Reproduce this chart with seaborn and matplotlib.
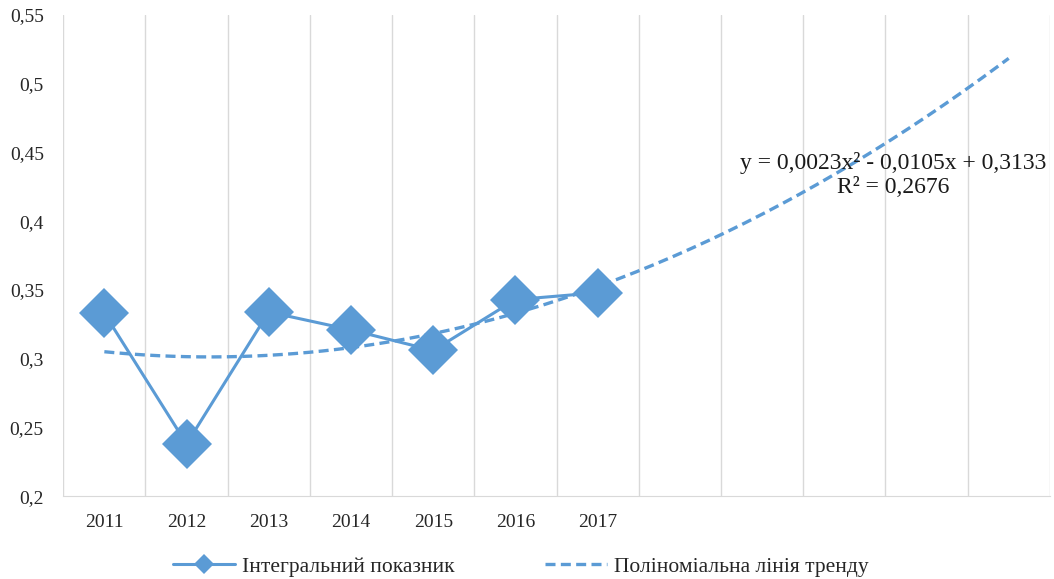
import numpy as np
import pandas as pd
import matplotlib
matplotlib.use('Agg')
import matplotlib.pyplot as plt
import seaborn as sns
from matplotlib.ticker import FixedLocator, FuncFormatter

# data
years = ['2011', '2012', '2013', '2014', '2015', '2016', '2017']
values = [0.333, 0.238, 0.334, 0.321, 0.306, 0.343, 0.348]
n_slots = 12  # category slots on the axis (trend is extended to slot 12)

# trend coefficients as printed on the chart
a2, a1, a0 = 0.0023, -0.0105, 0.3133
r2_text = 'R² = 0,2676'
eq_text = 'y = 0,0023x² - 0,0105x + 0,3133'

series_name = 'Інтегральний показник'
trend_name = 'Поліноміальна лінія тренду'

blue = '#5b9bd5'

sns.set_style('white')
plt.rcParams['font.family'] = ['Liberation Serif', 'DejaVu Serif']

df = pd.DataFrame({'x': np.arange(1, len(years) + 1), 'value': values})
tx = np.linspace(1, n_slots, 200)
trend = pd.DataFrame({'x': tx, 'value': a2 * tx ** 2 + a1 * tx + a0})

fig = plt.figure(figsize=(10.54, 5.79), dpi=100)
ax = fig.add_axes([0.06, 0.143, 0.936, 0.831])

sns.lineplot(data=df, x='x', y='value', ax=ax, color=blue, linewidth=2.2,
             marker='D', markersize=25, markeredgewidth=0, label=series_name)
sns.lineplot(data=trend, x='x', y='value', ax=ax, color=blue, linewidth=2.4,
             linestyle=(0, (3, 1.6)), label=trend_name)

ax.set_xlim(0.5, n_slots + 0.5)
ax.set_ylim(0.2, 0.55)
ax.set_xlabel('')
ax.set_ylabel('')

# category ticks in the middle, grid on the slot boundaries
ax.xaxis.set_major_locator(FixedLocator(np.arange(1, n_slots + 1)))
ax.set_xticklabels(years + [''] * (n_slots - len(years)))
ax.xaxis.set_minor_locator(FixedLocator(np.arange(0.5, n_slots + 1, 1)))
ax.grid(which='minor', axis='x', color='#d9d9d9', linewidth=1)
ax.grid(which='major', visible=False)

ax.set_yticks(np.arange(0.2, 0.5501, 0.05))
ax.yaxis.set_major_formatter(FuncFormatter(lambda v, p: f'{v:.2f}'.rstrip('0').replace('.', ',')))
ax.tick_params(axis='both', length=0, labelsize=14, colors='#262626')
ax.tick_params(axis='x', pad=13)
ax.tick_params(axis='y', pad=14)

for s in ['top', 'right', 'left']:
    ax.spines[s].set_visible(False)
ax.spines['bottom'].set_color('#d9d9d9')

ax.text(10.6, 0.4424, eq_text, ha='center', va='center', fontsize=17, color='#1a1a1a')
ax.text(10.6, 0.4242, r2_text, ha='center', va='center', fontsize=17, color='#1a1a1a')

leg = ax.legend(loc='center', bbox_to_anchor=(0.494, 0.021), bbox_transform=fig.transFigure,
                ncol=2, frameon=False, fontsize=15.5, columnspacing=4.2,
                handlelength=2.9, handletextpad=0.3)
leg.legend_handles[0].set_markersize(10)

fig.savefig('out.png', dpi=100)
